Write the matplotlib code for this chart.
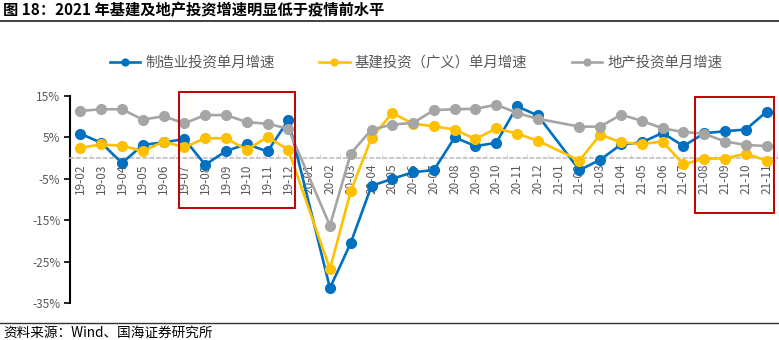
import numpy as np
import matplotlib.pyplot as plt
from matplotlib.patches import Rectangle

plt.rcParams['font.family'] = ['Noto Sans CJK SC', 'DejaVu Sans']

months = ['19-02', '19-03', '19-04', '19-05', '19-06', '19-07', '19-08', '19-09',
          '19-10', '19-11', '19-12', '20-01', '20-02', '20-03', '20-04', '20-05',
          '20-06', '20-07', '20-08', '20-09', '20-10', '20-11', '20-12', '21-01',
          '21-02', '21-03', '21-04', '21-05', '21-06', '21-07', '21-08', '21-09',
          '21-10', '21-11']

# 单月增速 (%), 1月无数据
manuf = [5.9, 3.7, -1.2, 3.2, 3.8, 4.6, -1.6, 1.7, 3.4, 1.6, 9.2, None,
         -31.4, -20.5, -6.7, -5.0, -3.4, -2.9, 5.0, 2.9, 3.7, 12.5, 10.3, None,
         -2.9, -0.4, 3.3, 3.8, 6.1, 2.9, 6.0, 6.5, 6.9, 11.2]
infra = [2.5, 3.3, 3.0, 1.7, 4.0, 2.6, 4.8, 4.8, 2.0, 5.1, 2.0, None,
         -26.8, -8.0, 4.9, 10.9, 8.3, 7.7, 6.9, 4.6, 7.2, 5.9, 4.2, None,
         -0.6, 5.7, 3.8, 3.4, 4.0, -1.5, -0.1, -0.1, 1.1, -0.6]
estate = [11.4, 11.8, 11.8, 9.3, 10.1, 8.4, 10.4, 10.4, 8.7, 8.3, 7.1, None,
          -16.3, 1.1, 6.9, 8.1, 8.5, 11.6, 11.8, 11.9, 12.9, 10.9, 9.5, None,
          7.6, 7.6, 10.5, 9.0, 7.2, 6.3, 5.9, 4.0, 3.2, 2.9]

series = [
    ('制造业投资单月增速', manuf, '#0070C0'),
    ('基建投资（广义）单月增速', infra, '#FFC000'),
    ('地产投资单月增速', estate, '#A5A5A5'),
]

fig = plt.figure(figsize=(7.79, 3.4), dpi=100)
ax = fig.add_axes([0.0899, 0.1088, 0.9075, 0.6088])

x = np.arange(len(months))
for name, vals, col in series:
    v = np.array([np.nan if a is None else a for a in vals], dtype=float)
    ok = ~np.isnan(v)
    ax.plot(x[ok], v[ok], color=col, lw=1.9, marker='o', markersize=7,
            label=name, zorder=3)

ax.set_xlim(-0.5, len(months) - 0.5)
ax.set_ylim(-35, 15)
ax.set_yticks([-35, -25, -15, -5, 5, 15])
ax.set_yticklabels(['-35%', '-25%', '-15%', '-5%', '5%', '15%'])
ax.tick_params(axis='y', colors='black', labelcolor='#595959', labelsize=8.5,
               length=4, width=1.2, pad=3)

ax.set_xticks(x)
ax.set_xticks(np.arange(-0.5, len(months), 1), minor=True)
ax.set_xticklabels(months)
ax.tick_params(axis='x', which='major', length=0, pad=4, labelsize=8.5,
               labelcolor='#595959', labelrotation=90)
ax.tick_params(axis='x', which='minor', length=3, color='#D0D0D0', direction='in')

for s in ['top', 'right']:
    ax.spines[s].set_visible(False)
ax.spines['left'].set_linewidth(1.5)
ax.spines['bottom'].set_position(('data', 0))
ax.spines['bottom'].set_color('#BFBFBF')
ax.spines['bottom'].set_linestyle((0, (2, 2)))
ax.spines['bottom'].set_linewidth(1.2)

# 红框
for x0, x1, y0, y1 in [(4.72, 10.31, -12.1, 16.0), (29.57, 33.37, -13.3, 14.7)]:
    ax.add_patch(Rectangle((x0, y0), x1 - x0, y1 - y0, fill=False,
                           edgecolor='#C00000', lw=1.4, clip_on=False, zorder=4))

fig.legend(loc='center', bbox_to_anchor=(0.534, 0.815), ncol=3, frameon=False,
           fontsize=10.4, handlelength=2.1, handletextpad=0.35, columnspacing=3.1,
           markerscale=0.7, labelcolor='#595959')

fig.text(0.004, 0.97, '图 18：2021 年基建及地产投资增速明显低于疫情前水平',
         fontsize=11, fontweight='bold', va='center', ha='left')
fig.add_artist(plt.Line2D([0, 1], [1 - 21 / 340, 1 - 21 / 340], color='#333333', lw=1.3))
fig.add_artist(plt.Line2D([0, 1], [1 - 323 / 340, 1 - 323 / 340], color='#333333', lw=1.0))
fig.text(0.004, 1 - 333 / 340, '资料来源：Wind、国海证券研究所', fontsize=9.8,
         va='center', ha='left')

fig.savefig('out.png', dpi=100)
